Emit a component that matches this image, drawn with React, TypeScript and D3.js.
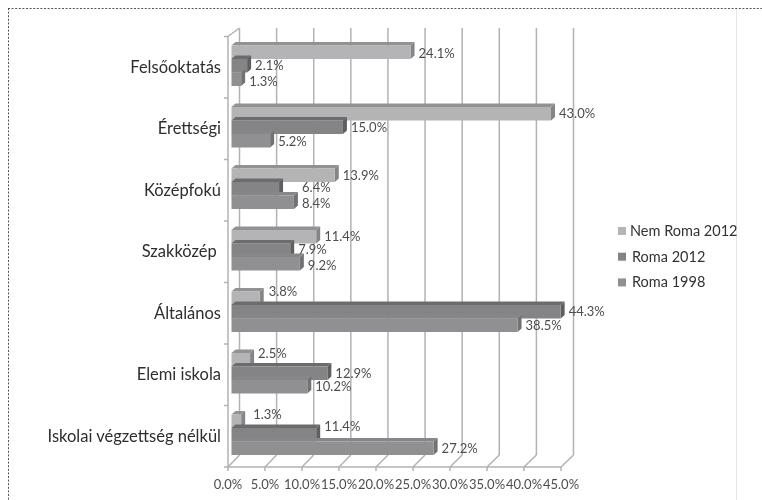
import React from "react";
import * as d3 from "d3";

const categories = ["Felsőoktatás", "Érettségi", "Középfokú", "Szakközép ", "Általános", "Elemi iskola", "Iskolai végzettség nélkül"];
const seriesNames = ["Nem Roma 2012", "Roma 2012", "Roma 1998"];
const nemRoma2012 = [24.1, 43.0, 13.9, 11.4, 3.8, 2.5, 1.3];
const roma2012 = [2.1, 15.0, 6.4, 7.9, 44.3, 12.9, 11.4];
const roma1998 = [1.3, 5.2, 8.4, 9.2, 38.5, 10.2, 27.2];
const allSeries = [nemRoma2012, roma2012, roma1998];
const xTicks = [0, 5, 10, 15, 20, 25, 30, 35, 40, 45];

const frontColors = ["#b4b4b6", "#848486", "#909092"];
const topColors = ["#929294", "#6c6c6e", "#878789"];
const sideColors = ["#858587", "#5f5f61", "#727274"];
const gridColor = "#b2b2b2";
const textColor = "#4d4d4d";
const font = "Lato, 'Open Sans', sans-serif";

// labels the source chart pushes away from their bars: "category-series" -> extra px
const labelNudgeX: Record<string, number> = { "2-1": 15, "6-0": 4, "4-0": 1 };
const labelNudgeY: Record<string, number> = {
  "0-0": 1, "0-1": 0, "0-2": 2,
  "1-2": 1,
  "2-1": -1, "2-2": 1,
  "3-1": -0.5, "3-2": 1.5,
  "4-0": -7, "4-1": 0, "4-2": 0.5,
  "5-0": -6, "5-1": 0, "5-2": -0.5,
  "6-0": -7, "6-1": -8, "6-2": 0,
};

const xBar = d3.scaleLinear().domain([0, 45]).range([231.5, 565.85]);
const xBack = d3.scaleLinear().domain([0, 45]).range([239.5, 573.5]);
const xFront = d3.scaleLinear().domain([0, 45]).range([228, 561]);
const yGroup = d3.scaleBand<number>().domain(d3.range(7)).range([36.5, 467]).paddingInner(0).paddingOuter(0);
const barH = 13.5;
const depthX = 4;
const depthY = 3.5;
const wallTop = 28;
const wallBottom = 455;
const floorY = 467;
const groupOffset = 5.5;

export default function App() {
  const fmt = (v: number) => v.toFixed(1) + "%";
  return (
    <svg width={762} height={500} style={{ position: "absolute", left: 0, top: 0, background: "#fff" }} fontFamily={font}>
      <defs>
        <filter id="soft" x="0" y="0" width="100%" height="100%">
          <feGaussianBlur stdDeviation="0.45" />
        </filter>
      </defs>
      <g filter="url(#soft)">
        <rect width={762} height={500} fill="#fff" />
        <line x1={8} y1={8.5} x2={762} y2={8.5} stroke="#555" strokeWidth={1} strokeDasharray="2 1.6" />
        <line x1={8.5} y1={8} x2={8.5} y2={500} stroke="#555" strokeWidth={1} strokeDasharray="2 1.6" />
        <line x1={736.5} y1={9} x2={736.5} y2={500} stroke="#e6e6e6" strokeWidth={1} />

        {xTicks.map((t) => (
          <g key={t} stroke={gridColor} strokeWidth={1.5} fill="none">
            <line x1={xBack(t)} y1={wallTop} x2={xBack(t)} y2={wallBottom} />
            <line x1={xBack(t)} y1={wallBottom} x2={xFront(t)} y2={floorY} />
            <line x1={xFront(t)} y1={floorY} x2={xFront(t)} y2={floorY + 4} />
          </g>
        ))}
        <g stroke={gridColor} strokeWidth={1.5} fill="none">
          <line x1={228} y1={yGroup(0)!} x2={228} y2={floorY} />
          <line x1={228} y1={yGroup(0)!} x2={xBack(0)} y2={wallTop} />
          <line x1={228} y1={floorY} x2={xFront(45)} y2={floorY} />
          {d3.range(8).map((i) => {
            const y = (yGroup(0) as number) + i * yGroup.step();
            return <line key={i} x1={224} y1={y} x2={228} y2={y} />;
          })}
        </g>

        {categories.map((c, i) => (
          <g key={c}>
            {allSeries.map((s, k) => {
              const y = (yGroup(i) as number) + groupOffset + depthY + k * barH;
              const x0 = xBar(0);
              const x1 = xBar(s[i]);
              return (
                <g key={k}>
                  <polygon
                    points={`${x0},${y} ${x0 + depthX},${y - depthY} ${x1 + depthX},${y - depthY} ${x1},${y}`}
                    fill={topColors[k]}
                  />
                  <polygon
                    points={`${x1},${y} ${x1 + depthX},${y - depthY} ${x1 + depthX},${y + barH - depthY} ${x1},${y + barH}`}
                    fill={sideColors[k]}
                  />
                  <rect x={x0} y={y} width={x1 - x0} height={barH} fill={frontColors[k]} />
                </g>
              );
            })}
          </g>
        ))}

        {categories.map((c, i) =>
          allSeries.map((s, k) => {
            const key = `${i}-${k}`;
            const y = (yGroup(i) as number) + groupOffset + depthY + k * barH + barH / 2 + (labelNudgeY[key] ?? 0);
            return (
              <text
                key={key}
                x={xBar(s[i]) + depthX + 4 + (labelNudgeX[key] ?? 0)}
                y={y}
                dy="0.35em"
                fontSize={13}
                fill={textColor}
              >
                {fmt(s[i])}
              </text>
            );
          })
        )}

        {categories.map((c, i) => (
          <text
            key={c}
            x={221}
            y={(yGroup(i) as number) + yGroup.bandwidth() / 2 - 0.3}
            dy="0.35em"
            textAnchor="end"
            fontSize={16.5}
            fill="#2e2e2e"
            xmlSpace="preserve"
          >
            {c}
          </text>
        ))}

        {xTicks.map((t) => (
          <text key={t} x={xFront(t)} y={484} dy="0.35em" textAnchor="middle" fontSize={13} fill={textColor}>
            {fmt(t)}
          </text>
        ))}

        {seriesNames.map((n, k) => {
          const cy = 231 + k * 25.7;
          return (
            <g key={n}>
              <rect x={618} y={cy - 4} width={8} height={8} fill={frontColors[k]} />
              <text x={k === 0 ? 630 : 632} y={cy} dy="0.35em" fontSize={14.5} fill="#333">
                {n}
              </text>
            </g>
          );
        })}
      </g>
    </svg>
  );
}
